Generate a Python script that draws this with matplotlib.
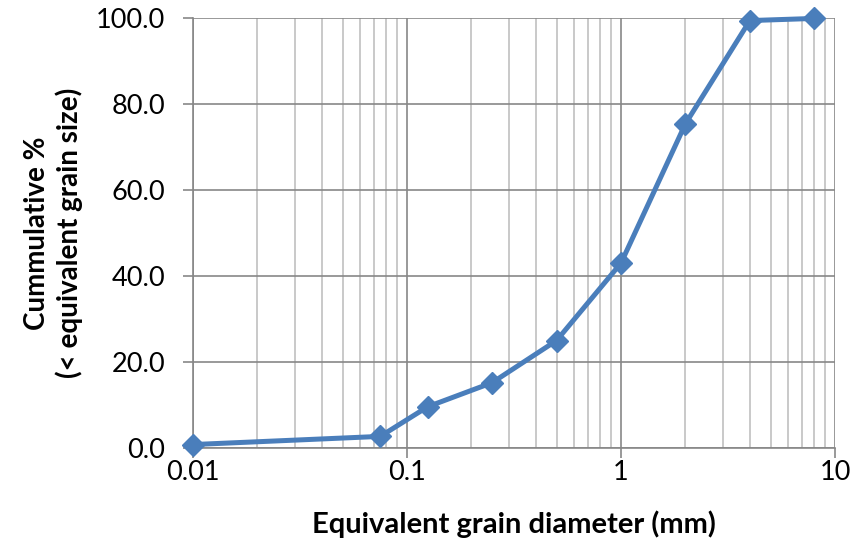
import matplotlib
matplotlib.use("Agg")
import matplotlib.pyplot as plt
from matplotlib.ticker import FixedLocator, LogLocator, FixedFormatter, NullFormatter

diameter_mm = [0.01, 0.075, 0.125, 0.25, 0.5, 1, 2, 4, 8]
cumulative_pct = [0.8, 2.7, 9.6, 15.2, 25.0, 43.0, 75.4, 99.4, 99.9]
x_ticks = [0.01, 0.1, 1, 10]
x_tick_labels = ["0.01", "0.1", "1", "10"]
y_ticks = [0, 20, 40, 60, 80, 100]

plt.rcParams['font.family'] = ['Lato', 'DejaVu Sans']

fig = plt.figure(figsize=(8.64, 5.48), dpi=100)
ax = fig.add_axes([193/864, 1-448/548, (835-193)/864, (448-18)/548])

ax.set_xscale('log')
ax.set_xlim(0.01, 10)
ax.set_ylim(0, 100)

major_grid = '#878787'
minor_grid = '#c0c0c0'

ax.xaxis.set_major_locator(FixedLocator(x_ticks))
ax.xaxis.set_major_formatter(FixedFormatter(x_tick_labels))
ax.xaxis.set_minor_locator(LogLocator(base=10, subs=range(2, 10)))
ax.xaxis.set_minor_formatter(NullFormatter())
ax.set_yticks(y_ticks)
ax.set_yticklabels([f"{v:.1f}" for v in y_ticks])

ax.grid(which='major', axis='both', color=major_grid, linewidth=1.2)
ax.grid(which='minor', axis='x', color=minor_grid, linewidth=1.2)
ax.set_axisbelow(True)

for s in ['top', 'right']:
    ax.spines[s].set_visible(False)
for s in ['left', 'bottom']:
    ax.spines[s].set_color(major_grid)
    ax.spines[s].set_linewidth(1.2)

ax.tick_params(axis='both', which='major', length=7, width=1.2, color=major_grid,
               labelsize=19.5, labelcolor='black')
ax.tick_params(axis='y', which='major', pad=13)
ax.tick_params(axis='x', which='major', pad=2)
ax.tick_params(axis='x', which='minor', length=0)

ax.plot(diameter_mm, cumulative_pct, color='#4a7ebb', linewidth=3.6,
        marker='D', markersize=11, markerfacecolor='#4a7ebb', markeredgecolor='#4a7ebb',
        clip_on=False, zorder=5)

ax.set_xlabel('Equivalent grain diameter (mm)', fontsize=21, fontweight='bold', labelpad=18)
ax.set_ylabel('Cummulative %\n(< equivalent grain size)', fontsize=20, fontweight='bold',
              labelpad=9, linespacing=1.25)

fig.savefig('out.png', dpi=100)
